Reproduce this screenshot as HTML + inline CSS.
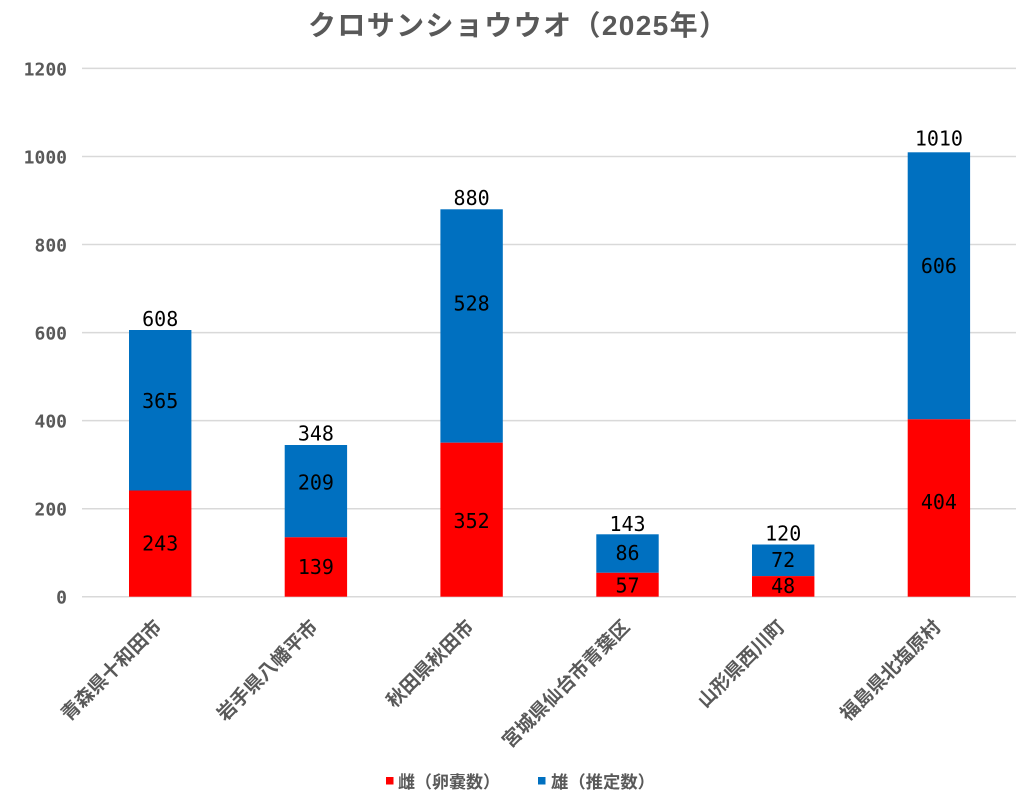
<!DOCTYPE html>
<html><head><meta charset="utf-8">
<style>
html,body{margin:0;padding:0;background:#fff;}
svg{display:block;}
.ax{font-family:"DejaVu Sans Mono","Liberation Mono",monospace;font-weight:bold;font-size:18px;fill:#595959;}
.dl{font-family:"DejaVu Sans Mono","Liberation Mono",monospace;font-size:20px;fill:#000;}
.cj{font-family:"Liberation Sans","Noto Sans CJK JP",sans-serif;font-weight:bold;fill:#595959;}
</style></head>
<body>
<svg width="1024" height="807" viewBox="0 0 1024 807" xmlns="http://www.w3.org/2000/svg">
<rect width="1024" height="807" fill="#fff"/>
<text class="cj" x="308" y="35" font-size="28" textLength="419" lengthAdjust="spacing">クロサンショウウオ（2025年）</text>
<g stroke="#d9d9d9" stroke-width="1.5">
<line x1="82" x2="1016" y1="68.4" y2="68.4"/>
<line x1="82" x2="1016" y1="156.5" y2="156.5"/>
<line x1="82" x2="1016" y1="244.5" y2="244.5"/>
<line x1="82" x2="1016" y1="332.6" y2="332.6"/>
<line x1="82" x2="1016" y1="420.6" y2="420.6"/>
<line x1="82" x2="1016" y1="508.7" y2="508.7"/>
<line x1="82" x2="1016" y1="596.7" y2="596.7"/>
</g>
<g class="ax" text-anchor="end">
<text x="67" y="75.5">1200</text>
<text x="67" y="163.5">1000</text>
<text x="67" y="251.5">800</text>
<text x="67" y="339.6">600</text>
<text x="67" y="427.6">400</text>
<text x="67" y="515.7">200</text>
<text x="67" y="603.7">0</text>
</g>
<g>
<rect x="129" y="330" width="62.4" height="160.5" fill="#0070C0"/>
<rect x="129" y="490.5" width="62.4" height="106.2" fill="#FF0000"/>
<rect x="284.7" y="445" width="62.4" height="92.3" fill="#0070C0"/>
<rect x="284.7" y="537.3" width="62.4" height="59.4" fill="#FF0000"/>
<rect x="440.4" y="209.3" width="62.4" height="233.4" fill="#0070C0"/>
<rect x="440.4" y="442.7" width="62.4" height="154" fill="#FF0000"/>
<rect x="596.3" y="534.3" width="62.4" height="38.5" fill="#0070C0"/>
<rect x="596.3" y="572.8" width="62.4" height="23.9" fill="#FF0000"/>
<rect x="752" y="544.5" width="62.4" height="31.6" fill="#0070C0"/>
<rect x="752" y="576.1" width="62.4" height="20.6" fill="#FF0000"/>
<rect x="907.7" y="152.3" width="62.4" height="267" fill="#0070C0"/>
<rect x="907.7" y="419.3" width="62.4" height="177.4" fill="#FF0000"/>
</g>
<g class="dl" text-anchor="middle">
<text x="160.2" y="326.2">608</text>
<text x="160.2" y="408.1">365</text>
<text x="160.2" y="550.3">243</text>
<text x="315.9" y="440.3">348</text>
<text x="315.9" y="489.3">209</text>
<text x="315.9" y="574">139</text>
<text x="471.6" y="204.8">880</text>
<text x="471.6" y="310.6">528</text>
<text x="471.6" y="528">352</text>
<text x="627.5" y="531">143</text>
<text x="627.5" y="559.8">86</text>
<text x="627.5" y="592.3">57</text>
<text x="783.2" y="540.6">120</text>
<text x="783.2" y="567.1">72</text>
<text x="783.2" y="593.1">48</text>
<text x="938.9" y="145.3">1010</text>
<text x="938.9" y="273">606</text>
<text x="938.9" y="509">404</text>
</g>
<g class="cj" font-size="19" text-anchor="end">
<text transform="translate(163,628) rotate(-45)">青森県十和田市</text>
<text transform="translate(319,628) rotate(-45)">岩手県八幡平市</text>
<text transform="translate(475,628) rotate(-45)">秋田県秋田市</text>
<text transform="translate(631,628) rotate(-45)">宮城県仙台市青葉区</text>
<text transform="translate(786,628) rotate(-45)">山形県西川町</text>
<text transform="translate(942,628) rotate(-45)">福島県北塩原村</text>
</g>
<rect x="386" y="777" width="7.5" height="7.5" fill="#FF0000"/>
<text class="cj" x="398" y="788" font-size="17" textLength="102" lengthAdjust="spacingAndGlyphs">雌（卵嚢数）</text>
<rect x="538" y="777" width="7.5" height="7.5" fill="#0070C0"/>
<text class="cj" x="551" y="788" font-size="17" textLength="104" lengthAdjust="spacingAndGlyphs">雄（推定数）</text>
</svg>
</body></html>
